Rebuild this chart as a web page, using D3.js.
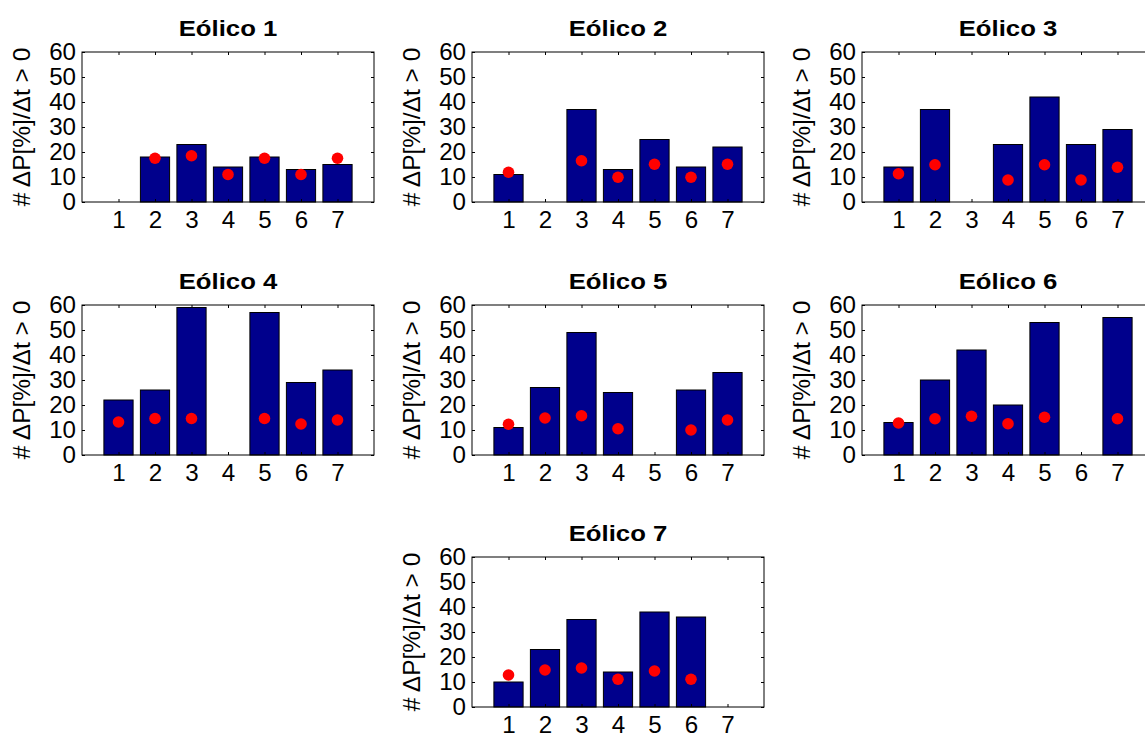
<!DOCTYPE html>
<html><head><meta charset="utf-8">
<script src="https://cdn.jsdelivr.net/npm/d3@7"></script>
<style>
html,body{margin:0;padding:0;background:#fff;overflow:hidden}
text{font-family:"Liberation Sans",Arial,Helvetica,sans-serif}
</style></head>
<body><svg id="c" width="1145" height="734"></svg>
<script>
const categories = [1,2,3,4,5,6,7];
const titles = ["Eólico 1","Eólico 2","Eólico 3","Eólico 4","Eólico 5","Eólico 6","Eólico 7"];
const yTicks = [0,10,20,30,40,50,60];
const yLabel = "# ΔP[%]/Δt > 0";
// bar values per panel
const bars1 = [0,18,23,14,18,13,15];
const bars2 = [11,0,37,13,25,14,22];
const bars3 = [14,37,0,23,42,23,29];
const bars4 = [22,26,59,0,57,29,34];
const bars5 = [11,27,49,25,0,26,33];
const bars6 = [13,30,42,20,53,0,55];
const bars7 = [10,23,35,14,38,36,0];
// red dot values per panel (null = no dot)
const dots1 = [null,17.5,18.5,11,17.5,11,17.5];
const dots2 = [11.9,null,16.5,9.9,15.1,9.9,15.1];
const dots3 = [11.3,14.9,null,8.8,14.9,8.8,13.9];
const dots4 = [13.2,14.6,14.6,null,14.6,12.4,14.0];
const dots5 = [12.3,14.8,15.7,10.5,null,10,14];
const dots6 = [12.8,14.5,15.5,12.5,15.1,null,14.5];
const dots7 = [12.8,14.8,15.6,11.1,14.4,11.1,null];

const allBars = [bars1,bars2,bars3,bars4,bars5,bars6,bars7];
const allDots = [dots1,dots2,dots3,dots4,dots5,dots6,dots7];

const colLeft = [82,472,862];
const rowTop = [52,305,557];
const W = 292, H = 150;
const layout = [[0,0],[1,0],[2,0],[0,1],[1,1],[2,1],[1,2]];

const svg = d3.select("#c");
const FS = 23, SX = 1.05;      // tick labels
const TFS = 22, TSX = 1.17;    // titles
const LFS = 24, LSX = 1.02;    // y label

layout.forEach(([c,r],i)=>{
  const g = svg.append("g").attr("transform",`translate(${colLeft[c]},${rowTop[r]})`);
  const x = d3.scaleLinear().domain([0,8]).range([0,W]);
  const y = d3.scaleLinear().domain([0,60]).range([H,0]);
  const bw = x(0.8)-x(0);

  g.selectAll("rect.bar").data(allBars[i]).join("rect")
    .attr("class","bar")
    .attr("x",(d,k)=>x(categories[k]-0.4))
    .attr("width",bw)
    .attr("y",d=>y(d))
    .attr("height",d=>y(0)-y(d))
    .attr("fill","#00008c").attr("stroke","#000").attr("stroke-width",1);

  g.selectAll("circle.dot").data(allDots[i].map((v,k)=>({v,k})).filter(d=>d.v!==null)).join("circle")
    .attr("class","dot")
    .attr("cx",d=>x(categories[d.k]))
    .attr("cy",d=>y(d.v))
    .attr("r",5.8).attr("fill","#ff0000");

  const ax = g.append("g").attr("transform",`translate(0,${H})`)
    .call(d3.axisBottom(x).tickValues(categories).tickSizeInner(-3).tickSizeOuter(0).tickPadding(10).tickFormat(d3.format("d")));
  const ay = g.append("g")
    .call(d3.axisLeft(y).tickValues(yTicks).tickSizeInner(-3).tickSizeOuter(0).tickPadding(6));
  const axt = g.append("g")
    .call(d3.axisTop(x).tickValues(categories).tickSizeInner(-3).tickSizeOuter(0).tickFormat(""));
  const ayr = g.append("g").attr("transform",`translate(${W},0)`)
    .call(d3.axisRight(y).tickValues(yTicks).tickSizeInner(-3).tickSizeOuter(0).tickFormat(""));
  [ax,ay,axt,ayr].forEach(a=>{
    a.select(".domain").remove();
    a.selectAll("line").attr("stroke","#000");
    a.selectAll("text").attr("font-size",FS).attr("fill","#000")
      .attr("font-family","Liberation Sans, Arial, sans-serif")
      .attr("transform",`scale(${SX},1)`);
  });
  ay.selectAll("text").attr("x",-6/SX);

  g.append("rect").attr("x",0).attr("y",0).attr("width",W).attr("height",H)
    .attr("fill","none").attr("stroke","#000").attr("stroke-width",1);

  g.append("text").attr("transform",`translate(${W/2},-16) scale(${TSX},1)`).attr("text-anchor","middle")
    .attr("font-size",TFS).attr("font-weight","bold").text(titles[i]);
  g.append("text").attr("transform",`translate(-52,${H/2}) rotate(-90) scale(${LSX},1)`).attr("text-anchor","middle")
    .attr("font-size",LFS).text(yLabel);
});
</script></body></html>
